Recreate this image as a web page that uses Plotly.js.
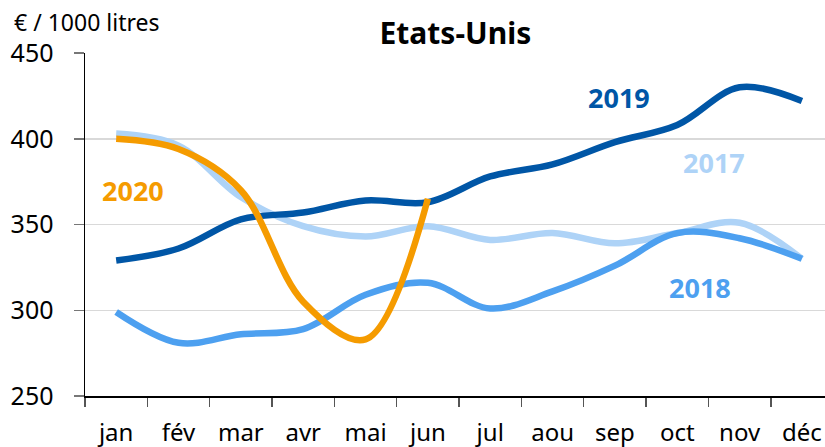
<!DOCTYPE html>
<html>
<head>
<meta charset="utf-8">
<script src="https://cdn.plot.ly/plotly-3.0.1.min.js"></script>
<style>html,body{margin:0;padding:0;background:#fff;}#chart{width:825px;height:447px;}</style>
</head>
<body>
<div id="chart"></div>
<script>
const months = ["jan","fév","mar","avr","mai","jun","jul","aou","sep","oct","nov","déc"];
const y2017 = [403, 396, 366, 349, 343, 349, 341, 345, 339, 345, 351, 330];
const y2018 = [299, 281, 286, 289, 309, 316, 301, 311, 326, 345, 342, 330];
const y2019 = [329, 336, 353, 357, 364, 363, 378, 385, 398, 408, 430, 422];
const y2020 = [400, 394, 370, 305, 283, 365];
const months2020 = months.slice(0, y2020.length);
const yTicks = [250, 300, 350, 400, 450];

const FONT = "Noto Sans, sans-serif";
function line(x, y, color, name) {
  return {x: x, y: y, name: name, type: "scatter", mode: "lines",
          line: {color: color, width: 6.5, shape: "spline", smoothing: 1},
          hoverinfo: "skip"};
}
const data = [
  line(months, y2017, "#AED3F7", "2017"),
  line(months, y2018, "#4DA0F0", "2018"),
  line(months, y2019, "#0056A6", "2019"),
  line(months2020, y2020, "#F59B00", "2020")
];

const layout = {
  width: 825, height: 447,
  margin: {l: 85, r: 0, t: 53, b: 51},
  paper_bgcolor: "#fff", plot_bgcolor: "#fff",
  showlegend: false,
  font: {family: FONT, color: "#000", size: 24},
  title: {text: "<b>Etats-Unis</b>", font: {family: FONT, size: 30, color: "#000"},
          x: 0.552, xanchor: "center", xref: "container", y: 0.926, yanchor: "middle", yref: "container"},
  xaxis: {type: "category", categoryorder: "array", categoryarray: months,
          range: [-0.5, 11.37], showgrid: false, zeroline: false,
          showline: true, linecolor: "#000", linewidth: 1.5,
          ticks: "outside", tickson: "boundaries", ticklen: 9, tickcolor: "#555", tickwidth: 1.5,
          tickfont: {family: FONT, size: 24, color: "#000"}, ticklabelstandoff: 15, fixedrange: true},
  yaxis: {range: [250, 450], tickvals: yTicks, ticktext: yTicks.map(String),
          showgrid: true, gridcolor: "#D9D9D9", gridwidth: 1.5, zeroline: false,
          showline: true, linecolor: "#000", linewidth: 1.5,
          ticks: "outside", ticklen: 10, tickcolor: "#777", tickwidth: 1.5,
          tickfont: {family: FONT, size: 25, color: "#000"}, ticklabelstandoff: 15, fixedrange: true},
  annotations: [
    {text: "€ / 1000 litres", xref: "paper", yref: "paper", x: -0.0986, y: 1.09,
     xanchor: "left", yanchor: "middle", showarrow: false, font: {family: FONT, size: 23, color: "#000"}},
    {text: "<b>2019</b>", xref: "x", yref: "y", x: 8.07, y: 424, showarrow: false,
     font: {family: FONT, size: 27, color: "#0056A6"}},
    {text: "<b>2017</b>", xref: "x", yref: "y", x: 9.59, y: 386, showarrow: false,
     font: {family: FONT, size: 27, color: "#AED3F7"}},
    {text: "<b>2018</b>", xref: "x", yref: "y", x: 9.37, y: 313, showarrow: false,
     font: {family: FONT, size: 27, color: "#4DA0F0"}},
    {text: "<b>2020</b>", xref: "x", yref: "y", x: 0.27, y: 370, showarrow: false,
     font: {family: FONT, size: 27, color: "#F59B00"}}
  ]
};
Plotly.newPlot("chart", data, layout, {staticPlot: true, displayModeBar: false});
</script>
</body>
</html>
